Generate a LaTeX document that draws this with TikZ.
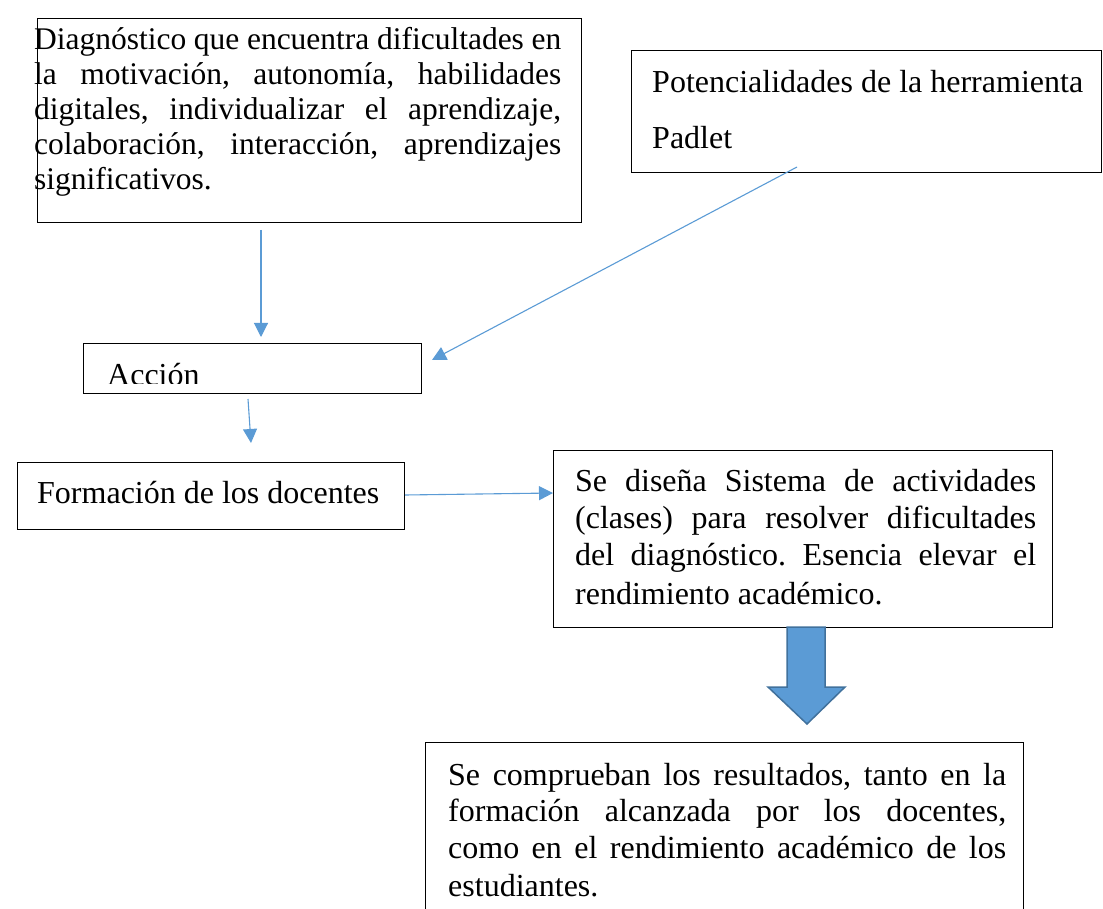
\documentclass[tikz,border=0pt]{standalone}
\usepackage{fontspec}
\setmainfont{Liberation Serif}
\frenchspacing
\usetikzlibrary{arrows.meta}
\definecolor{lineblue}{HTML}{5B9BD5}
\definecolor{arrowfill}{HTML}{5B9BD5}
\definecolor{arrowedge}{HTML}{41719C}
\begin{document}
\begin{tikzpicture}[x=1pt,y=-1pt,
  box/.style={draw=black,line width=1.3pt,rectangle,inner sep=0pt,anchor=north west},
  txt/.style={anchor=base west,inner sep=0pt},
  conn/.style={draw=lineblue,line width=1.1pt,-{Triangle[length=14pt,width=14pt]}},
  blockarrow/.style={fill=arrowfill,draw=arrowedge,line width=1.5pt,line join=miter}]
\useasboundingbox (0,0) rectangle (1103,909);

% boxes
\node[box,minimum width=544pt,minimum height=204pt] (diag) at (37,18) {};
\node[box,minimum width=470pt,minimum height=122pt] (pot) at (631,50) {};
\node[box,minimum width=338pt,minimum height=50pt] (acc) at (83,343) {};
\node[box,minimum width=387pt,minimum height=67pt] (form) at (17,462) {};
\node[box,minimum width=499pt,minimum height=177pt] (dis) at (553,450) {};
\node[box,minimum width=598pt,minimum height=200pt] (comp) at (425,742) {};

% texts
\node[txt] (diagt) at (34,50) {\parbox[t]{527pt}{\fontsize{31.5}{35}\selectfont
\makebox[\linewidth][s]{Diagnóstico que encuentra dificultades en}\\
\makebox[\linewidth][s]{la motivación, autonomía, habilidades}\\
\makebox[\linewidth][s]{digitales, individualizar el aprendizaje,}\\
\makebox[\linewidth][s]{colaboración, interacción, aprendizajes}\\
significativos.}};

\node[txt] (pott) at (652,93) {\parbox[t]{440pt}{\fontsize{32}{56}\selectfont
Potencialidades de la herramienta\\
Padlet}};

\begin{scope}
\clip (84,344) rectangle (420,383);
\node[txt] (acct) at (107,385) {\fontsize{32}{36}\selectfont Acción};
\end{scope}

\node[txt] (formt) at (37,503) {\fontsize{32}{36}\selectfont Formación de los docentes};

\node[txt] (dist) at (575,491) {\parbox[t]{461pt}{\fontsize{32}{37}\selectfont
\makebox[\linewidth][s]{Se diseña Sistema de actividades}\\
\makebox[\linewidth][s]{(clases) para resolver dificultades}\\
\makebox[\linewidth][s]{del diagnóstico. Esencia elevar el}\\[2pt]
rendimiento académico.}};

\node[txt] (compt) at (448,785) {\parbox[t]{558pt}{\fontsize{32}{36.5}\selectfont
\makebox[\linewidth][s]{Se comprueban los resultados, tanto en la}\\
\makebox[\linewidth][s]{formación alcanzada por los docentes,}\\
\makebox[\linewidth][s]{como en el rendimiento académico de los}\\[2pt]
estudiantes.}};

% connector end points
\coordinate (a1s) at (261,230);
\coordinate (a1e) at (261,337);
\coordinate (a2s) at (797,167);
\coordinate (a2e) at (432,360);
\coordinate (a3s) at (248,399);
\coordinate (a3e) at (251,443);
\coordinate (a4s) at (405,495);
\coordinate (a4e) at (553,493);

\draw[conn] (a1s) -- (a1e);
\draw[conn] (a2s) -- (a2e);
\draw[conn] (a3s) -- (a3e);
\draw[conn] (a4s) -- (a4e);

% block arrow
\draw[blockarrow] (787,627) -- (825,627) -- (825,687) -- (845,687) -- (807,724) -- (768,687) -- (787,687) -- cycle;
\end{tikzpicture}
\end{document}
